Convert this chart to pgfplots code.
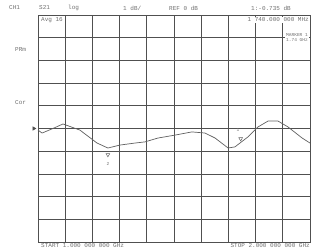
\documentclass[border=0pt]{standalone}
\usepackage{fontspec}
\setmainfont{Liberation Mono}
\usepackage{pgfplots}
\pgfplotsset{compat=1.18}
\definecolor{gridc}{HTML}{505050}
\definecolor{trc}{HTML}{606060}
\definecolor{txtc}{HTML}{707070}
\begin{document}
\begin{tikzpicture}[x=1pt,y=1pt,font=\fontsize{6}{7}\selectfont, every node/.style={text=txtc, inner sep=1pt}]
\path (0,0) rectangle (312,249);
\begin{axis}[at={(38pt,7pt)}, anchor=south west, scale only axis,
  width=272pt, height=227pt,
  xmin=1, xmax=2, ymin=-5, ymax=5,
  xtick={1,1.1,1.2,1.3,1.4,1.5,1.6,1.7,1.8,1.9,2},
  ytick={-5,-4,-3,-2,-1,0,1,2,3,4,5},
  xticklabels={}, yticklabels={}, major tick length=0pt,
  grid=major, grid style={gridc, line width=0.7pt},
  axis line style={gridc, line width=0.7pt},
  clip=false]
\addplot[trc, line width=0.7pt] coordinates {
(1.000,-0.07) (1.015,-0.20) (1.051,-0.02) (1.092,0.20) (1.154,-0.07)
(1.217,-0.64) (1.257,-0.86) (1.301,-0.73) (1.357,-0.64) (1.393,-0.59)
(1.441,-0.42) (1.504,-0.29) (1.566,-0.15) (1.614,-0.20) (1.651,-0.42)
(1.699,-0.86) (1.724,-0.81) (1.772,-0.37) (1.809,0.07) (1.846,0.33)
(1.882,0.33) (1.919,0.07) (1.971,-0.42) (2.000,-0.64)};
% markers
\addplot[only marks, mark=triangle, mark options={rotate=180, trc, line width=0.5pt}, mark size=2.2pt] coordinates {(1.257,-1.15) (1.745,-0.45)};
\node[font=\fontsize{4.5}{5}\selectfont] at (axis cs:1.257,-1.55) {2};
\node[font=\fontsize{4.5}{5}\selectfont] at (axis cs:1.735,-0.05) {1};
\addplot[only marks, mark=triangle*, mark options={rotate=-90, gridc}, mark size=2pt] coordinates {(0.985,0)};
\end{axis}
% header
\node[anchor=west] at (8,241) {CH1};
\node[anchor=west] at (38,241) {S21};
\node[anchor=west] at (67,241) {log};
\node[anchor=west] at (122,241) {1 dB/};
\node[anchor=west] at (168,241) {REF 0 dB};
\node[anchor=west] at (250,241) {1:-0.735 dB};
\node[anchor=west, fill=white] at (40,229) {Avg 16};
\node[anchor=east, fill=white] at (310,229) {1 740.000 000 MHz};
\node[anchor=east, font=\fontsize{4.5}{5}\selectfont, align=right, fill=white] at (309,211) {MARKER 1\\1.74 GHz};
\node[anchor=west] at (14,199) {PRm};
\node[anchor=west] at (14,146) {Cor};
% footer
\node[anchor=west] at (40,3) {START 1.000 000 000 GHz};
\node[anchor=east] at (311,3) {STOP 2.000 000 000 GHz};
\end{tikzpicture}
\end{document}
